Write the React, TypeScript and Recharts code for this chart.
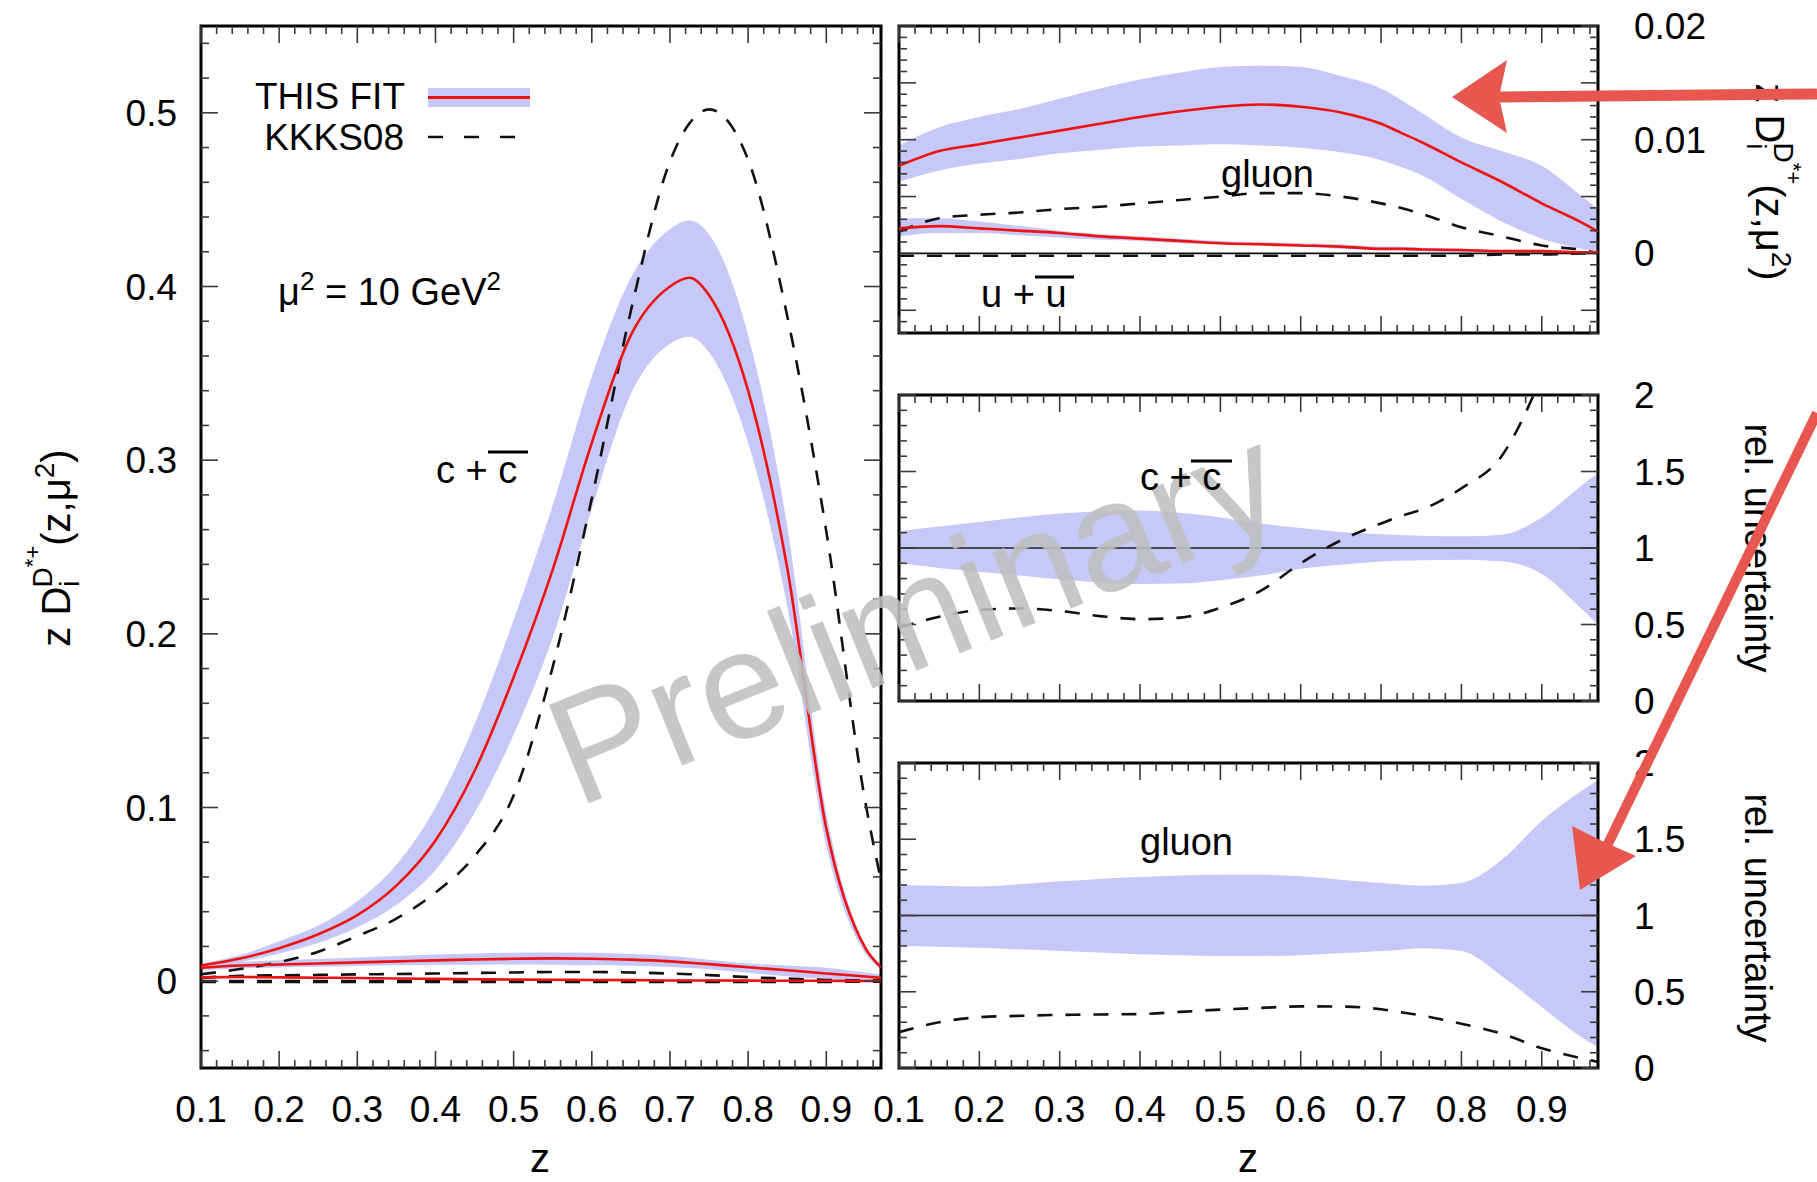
import React from 'react';
import { ComposedChart, Line, Area, XAxis, YAxis, ReferenceArea, ReferenceLine } from 'recharts';

const W = 1817;
const H = 1182;
const FONT = '"Liberation Sans", Arial, Helvetica, sans-serif';
const RED = '#ee1111';
const BAND = '#c6c8f8';
const DASH = '#111111';
const ARROW = '#e8574f';

// z grid shared by every curve
const Z = [0.1, 0.15, 0.2, 0.25, 0.3, 0.35, 0.4, 0.45, 0.5, 0.55, 0.6, 0.65, 0.7, 0.725, 0.75, 0.8, 0.85, 0.9, 0.95, 0.97];

// c + cbar, z D(z)
const C_FIT = [0.009, 0.013, 0.019, 0.027, 0.038, 0.055, 0.081, 0.121, 0.175, 0.237, 0.31, 0.372, 0.4, 0.405, 0.395, 0.34, 0.238, 0.088, 0.019, 0.008];
const C_UP = [0.01, 0.015, 0.023, 0.032, 0.046, 0.067, 0.1, 0.148, 0.208, 0.274, 0.348, 0.405, 0.433, 0.438, 0.43, 0.372, 0.262, 0.097, 0.021, 0.009];
const C_LO = [0.008, 0.011, 0.016, 0.022, 0.031, 0.044, 0.064, 0.097, 0.142, 0.198, 0.272, 0.338, 0.367, 0.371, 0.362, 0.31, 0.216, 0.078, 0.016, 0.007];
const C_KKKS = [0.004, 0.007, 0.011, 0.017, 0.026, 0.036, 0.051, 0.072, 0.107, 0.181, 0.278, 0.386, 0.472, 0.494, 0.502, 0.473, 0.383, 0.259, 0.103, 0.058];

// gluon
const G_FIT = [0.0077, 0.009, 0.0096, 0.0102, 0.0108, 0.0114, 0.012, 0.0125, 0.0129, 0.0131, 0.0129, 0.0124, 0.0114, 0.0106, 0.0098, 0.008, 0.0063, 0.0044, 0.0027, 0.0019];
const G_UP = [0.0095, 0.0111, 0.012, 0.0127, 0.0136, 0.0145, 0.0153, 0.0159, 0.0164, 0.0165, 0.0164, 0.0156, 0.0145, 0.0135, 0.0124, 0.0102, 0.009, 0.0077, 0.005, 0.0039];
const G_LO = [0.0063, 0.0073, 0.0079, 0.0083, 0.0088, 0.0091, 0.0094, 0.0095, 0.0096, 0.0095, 0.0093, 0.0089, 0.0082, 0.0076, 0.0069, 0.0048, 0.0028, 0.0013, 0.0004, 0.0001];
const G_KKKS = [0.0019, 0.0031, 0.0034, 0.0036, 0.0039, 0.0041, 0.0044, 0.0047, 0.005, 0.0053, 0.0053, 0.005, 0.0044, 0.004, 0.0035, 0.0023, 0.0015, 0.0007, 0.0003, 0.0];

// u + ubar
const U_FIT = [0.0022, 0.0024, 0.0022, 0.002, 0.0018, 0.0015, 0.0013, 0.0011, 0.0009, 0.0008, 0.0007, 0.0006, 0.0004, 0.0004, 0.00035, 0.0003, 0.0002, 0.0002, 0.0001, 0.0001];
const U_UP = [0.0031, 0.0031, 0.0028, 0.0024, 0.002, 0.0017, 0.0015, 0.0013, 0.0011, 0.001, 0.0009, 0.0008, 0.0006, 0.0006, 0.0005, 0.0004, 0.0003, 0.0003, 0.0002, 0.0002];
const U_LO = [0.0015, 0.0018, 0.0018, 0.0016, 0.0014, 0.0012, 0.0011, 0.0009, 0.0008, 0.0007, 0.0006, 0.0004, 0.0003, 0.0003, 0.0002, 0.0001, 0.0001, 0.0, 0.0, 0.0];
const U_KKKS = [-0.0002, -0.0002, -0.0002, -0.0002, -0.0002, -0.0002, -0.0002, -0.0002, -0.0002, -0.0002, -0.0002, -0.0002, -0.0002, -0.0002, -0.0002, -0.0002, -0.0001, -0.0001, 0.0, 0.0];

// relative uncertainty, c + cbar
const C_REL_UP = [1.11, 1.14, 1.17, 1.2, 1.225, 1.24, 1.245, 1.23, 1.2, 1.16, 1.13, 1.105, 1.09, 1.085, 1.08, 1.076, 1.087, 1.2, 1.41, 1.49];
const C_REL_LO = [0.9, 0.87, 0.845, 0.82, 0.795, 0.775, 0.765, 0.768, 0.79, 0.82, 0.865, 0.89, 0.912, 0.916, 0.92, 0.924, 0.913, 0.83, 0.6, 0.5];
const C_REL_KKKS = [0.48, 0.55, 0.595, 0.605, 0.588, 0.555, 0.535, 0.545, 0.61, 0.72, 0.9, 1.05, 1.16, 1.21, 1.25, 1.39, 1.6, 2.12, null, null];

// relative uncertainty, gluon
const G_REL_UP = [1.2, 1.195, 1.19, 1.205, 1.224, 1.24, 1.252, 1.262, 1.267, 1.267, 1.257, 1.235, 1.213, 1.203, 1.195, 1.213, 1.365, 1.62, 1.82, 1.887];
const G_REL_LO = [0.8, 0.795, 0.789, 0.778, 0.767, 0.757, 0.746, 0.74, 0.735, 0.735, 0.739, 0.752, 0.767, 0.776, 0.785, 0.767, 0.604, 0.4, 0.2, 0.137];
const G_REL_KKKS = [0.235, 0.3, 0.333, 0.342, 0.348, 0.351, 0.354, 0.368, 0.383, 0.394, 0.404, 0.403, 0.385, 0.366, 0.345, 0.29, 0.225, 0.13, 0.063, 0.04];

// tick labels
const X_LABELS = [0.1, 0.2, 0.3, 0.4, 0.5, 0.6, 0.7, 0.8, 0.9];
const MAIN_Y_LABELS = [0, 0.1, 0.2, 0.3, 0.4, 0.5];
const TOP_Y_LABELS = [0, 0.01, 0.02];
const REL_Y_LABELS = [0, 0.5, 1, 1.5, 2];

const X_DOMAIN: [number, number] = [0.1, 0.97];

const rows = Z.map((z, i) => ({
  z,
  cFit: C_FIT[i],
  cBand: [C_LO[i], C_UP[i]],
  cKkks: C_KKKS[i],
  gFit: G_FIT[i],
  gBand: [G_LO[i], G_UP[i]],
  gKkks: G_KKKS[i],
  uFit: U_FIT[i],
  uBand: [U_LO[i], U_UP[i]],
  uKkks: U_KKKS[i],
  cRelBand: [C_REL_LO[i], C_REL_UP[i]],
  cRelKkks: C_REL_KKKS[i],
  gRelBand: [G_REL_LO[i], G_REL_UP[i]],
  gRelKkks: G_REL_KKKS[i],
}));

function steps(from: number, to: number, step: number) {
  const out: number[] = [];
  const n = Math.round((to - from) / step);
  for (let i = 0; i <= n; i++) out.push(Number((from + i * step).toFixed(5)));
  return out;
}

const X_TICKS = steps(0.1, 0.96, 0.02);
const MAIN_Y_TICKS = steps(-0.04, 0.54, 0.02);
const TOP_Y_TICKS = steps(-0.007, 0.02, 0.001);
const REL_Y_TICKS = steps(0, 2, 0.1);

const isMultiple = (v: number, step: number) => Math.abs(v / step - Math.round(v / step)) < 1e-6;
const hasLabel = (labels: number[], v: number) => labels.some((l) => Math.abs(l - v) < 1e-9);

type Box = { left: number; right: number; top: number; bottom: number };

const MAIN_BOX: Box = { left: 201, right: 881, top: 26, bottom: 1068 };
const TOP_BOX: Box = { left: 899, right: 1598, top: 26, bottom: 333 };
const MID_BOX: Box = { left: 899, right: 1598, top: 395, bottom: 701 };
const BOT_BOX: Box = { left: 899, right: 1598, top: 763, bottom: 1068 };

const TICK = '#3a3a3a';
const TICK_FONT = 37;

function XTick(props: any) {
  const { x, payload, box, showLabels } = props;
  const v = payload.value;
  const major = isMultiple(v, 0.1);
  const len = major ? 17 : 8;
  return (
    <g>
      <line x1={x} x2={x} y1={box.bottom} y2={box.bottom - len} stroke={TICK} strokeWidth={1.6} />
      <line x1={x} x2={x} y1={box.top} y2={box.top + len} stroke={TICK} strokeWidth={1.6} />
      {showLabels && hasLabel(X_LABELS, v) && (
        <text x={x} y={box.bottom + 54} textAnchor="middle" fontSize={TICK_FONT} fontFamily={FONT} fill="#000">
          {String(v)}
        </text>
      )}
    </g>
  );
}

function YTick(props: any) {
  const { y, payload, box, major, labels, right } = props;
  const v = payload.value;
  const len = isMultiple(v, major) ? 17 : 8;
  return (
    <g>
      <line x1={box.left} x2={box.left + len} y1={y} y2={y} stroke={TICK} strokeWidth={1.6} />
      <line x1={box.right} x2={box.right - len} y1={y} y2={y} stroke={TICK} strokeWidth={1.6} />
      {hasLabel(labels, v) && (
        <text
          x={right ? box.right + 36 : box.left - 24}
          y={y + 13}
          textAnchor={right ? 'start' : 'end'}
          fontSize={TICK_FONT}
          fontFamily={FONT}
          fill="#000"
        >
          {String(v)}
        </text>
      )}
    </g>
  );
}

function Panel({
  box,
  yDomain,
  yTicks,
  yMajor,
  yLabels,
  right,
  xLabels,
  children,
}: {
  box: Box;
  yDomain: [number, number];
  yTicks: number[];
  yMajor: number;
  yLabels: number[];
  right?: boolean;
  xLabels?: boolean;
  children: React.ReactNode;
}) {
  // axes take 1px each (a zero-sized axis draws no ticks), so the margins give that pixel back
  const margin = {
    top: box.top,
    bottom: H - box.bottom - 1,
    left: right ? box.left : box.left - 1,
    right: right ? W - box.right - 1 : W - box.right,
  };
  return (
    <div style={{ position: 'absolute', left: 0, top: 0 }}>
      <ComposedChart width={W} height={H} data={rows} margin={margin}>
        <XAxis
          dataKey="z"
          type="number"
          domain={X_DOMAIN}
          allowDataOverflow
          ticks={X_TICKS}
          interval={0}
          height={1}
          axisLine={false}
          tickLine={false}
          tick={(p: any) => <XTick {...p} box={box} showLabels={xLabels} />}
        />
        <YAxis
          type="number"
          domain={yDomain}
          allowDataOverflow
          ticks={yTicks}
          interval={0}
          width={1}
          orientation={right ? 'right' : 'left'}
          axisLine={false}
          tickLine={false}
          tick={(p: any) => <YTick {...p} box={box} major={yMajor} labels={yLabels} right={right} />}
        />
        {children}
        <ReferenceArea x1={X_DOMAIN[0]} x2={X_DOMAIN[1]} y1={yDomain[0]} y2={yDomain[1]} fill="none" stroke="#000" strokeWidth={3} />
      </ComposedChart>
    </div>
  );
}

const band = (key: string) => (
  <Area
    key={key}
    dataKey={key}
    type="monotone"
    stroke="none"
    fill={BAND}
    fillOpacity={1}
    isAnimationActive={false}
    dot={false}
    activeDot={false}
  />
);

const fit = (key: string) => (
  <Line key={key} dataKey={key} type="monotone" stroke={RED} strokeWidth={2.6} dot={false} activeDot={false} isAnimationActive={false} />
);

const kkks = (key: string, width = 2.6) => (
  <Line
    key={key}
    dataKey={key}
    type="monotone"
    stroke={DASH}
    strokeWidth={width}
    strokeDasharray="15 13"
    dot={false}
    activeDot={false}
    isAnimationActive={false}
  />
);

function Overlay() {
  return (
    <svg width={W} height={H} style={{ position: 'absolute', left: 0, top: 0 }} fontFamily={FONT}>
      {/* watermark */}
      <text x={577} y={808} fontSize={154} fill="#bfc0bf" opacity={0.88} transform="rotate(-22 577 808)">
        Preliminary
      </text>

      {/* legend */}
      <text x={405} y={109} fontSize={37} textAnchor="end">THIS FIT</text>
      <rect x={428} y={88} width={102} height={19} fill={BAND} />
      <line x1={428} x2={530} y1={97.5} y2={97.5} stroke={RED} strokeWidth={3} />
      <text x={404} y={150} fontSize={37} textAnchor="end">KKKS08</text>
      <line x1={428} x2={516} y1={137} y2={137} stroke={DASH} strokeWidth={2.6} strokeDasharray="15 21" />

      <text x={278} y={305} fontSize={38}>
        μ<tspan fontSize={26} dy={-15}>2</tspan>
        <tspan dy={15}> = 10 GeV</tspan>
        <tspan fontSize={26} dy={-15}>2</tspan>
      </text>

      {/* curve labels */}
      <text x={436} y={483} fontSize={38}>c + c</text>
      <line x1={488} x2={528} y1={452} y2={452} stroke="#000" strokeWidth={3} />
      <text x={1221} y={187} fontSize={38}>gluon</text>
      <text x={981} y={307} fontSize={38}>u + u</text>
      <line x1={1035} x2={1074} y1={277} y2={277} stroke="#000" strokeWidth={3} />
      <text x={1140} y={490} fontSize={38}>c + c</text>
      <line x1={1191} x2={1232} y1={461} y2={461} stroke="#000" strokeWidth={3} />
      <text x={1140} y={855} fontSize={38}>gluon</text>

      {/* axis titles */}
      <text x={540} y={1172} fontSize={40} textAnchor="middle">z</text>
      <text x={1248} y={1172} fontSize={40} textAnchor="middle">z</text>
      <text x={70} y={548} fontSize={40} textAnchor="middle" transform="rotate(-90 70 548)">
        z D<tspan fontSize={28} dy={9}>i</tspan>
        <tspan fontSize={28} dx={-7} dy={-27}>D</tspan>
        <tspan fontSize={22} dy={-12}>*+</tspan>
        <tspan fontSize={40} dy={30}>(z,μ</tspan>
        <tspan fontSize={28} dy={-16}>2</tspan>
        <tspan fontSize={40} dy={16}>)</tspan>
      </text>
      <text x={1756} y={182} fontSize={40} textAnchor="middle" transform="rotate(90 1756 182)">
        z D<tspan fontSize={28} dy={9}>i</tspan>
        <tspan fontSize={28} dx={-7} dy={-27}>D</tspan>
        <tspan fontSize={22} dy={-12}>*+</tspan>
        <tspan fontSize={40} dy={30}>(z,μ</tspan>
        <tspan fontSize={28} dy={-16}>2</tspan>
        <tspan fontSize={40} dy={16}>)</tspan>
      </text>
      <text x={1745} y={548} fontSize={38} textAnchor="middle" transform="rotate(90 1745 548)">
        rel. uncertainty
      </text>
      <text x={1745} y={918} fontSize={38} textAnchor="middle" transform="rotate(90 1745 918)">
        rel. uncertainty
      </text>

      {/* hand-drawn arrows */}
      <line x1={1817} y1={94} x2={1498} y2={97} stroke={ARROW} strokeWidth={11} />
      <polygon points="1452,97 1507,60 1499,97 1507,133" fill={ARROW} />
      <line x1={1817} y1={413} x2={1606} y2={848} stroke={ARROW} strokeWidth={10} />
      <polygon points="1580,890 1572,826 1604,842 1636,856" fill={ARROW} />
    </svg>
  );
}

export default function App() {
  return (
    <div style={{ position: 'absolute', left: 0, top: 0, width: W, height: H, background: '#fff', overflow: 'hidden' }}>
      <Panel box={MAIN_BOX} yDomain={[-0.05, 0.55]} yTicks={MAIN_Y_TICKS} yMajor={0.1} yLabels={MAIN_Y_LABELS} xLabels>
        {band('cBand')}
        {band('gBand')}
        {band('uBand')}
        {kkks('cKkks')}
        {kkks('gKkks')}
        {kkks('uKkks', 3.6)}
        {fit('cFit')}
        {fit('gFit')}
        {fit('uFit')}
      </Panel>
      <Panel box={TOP_BOX} yDomain={[-0.007, 0.02]} yTicks={TOP_Y_TICKS} yMajor={0.005} yLabels={TOP_Y_LABELS} right>
        {band('gBand')}
        {band('uBand')}
        <ReferenceLine y={0} stroke="#111" strokeWidth={1.6} />
        {kkks('gKkks')}
        {kkks('uKkks')}
        {fit('gFit')}
        {fit('uFit')}
      </Panel>
      <Panel box={MID_BOX} yDomain={[0, 2]} yTicks={REL_Y_TICKS} yMajor={0.5} yLabels={REL_Y_LABELS} right>
        {band('cRelBand')}
        <ReferenceLine y={1} stroke="#222" strokeWidth={1.6} />
        {kkks('cRelKkks')}
      </Panel>
      <Panel box={BOT_BOX} yDomain={[0, 2]} yTicks={REL_Y_TICKS} yMajor={0.5} yLabels={REL_Y_LABELS} right xLabels>
        {band('gRelBand')}
        <ReferenceLine y={1} stroke="#222" strokeWidth={1.6} />
        {kkks('gRelKkks')}
      </Panel>
      <Overlay />
    </div>
  );
}
